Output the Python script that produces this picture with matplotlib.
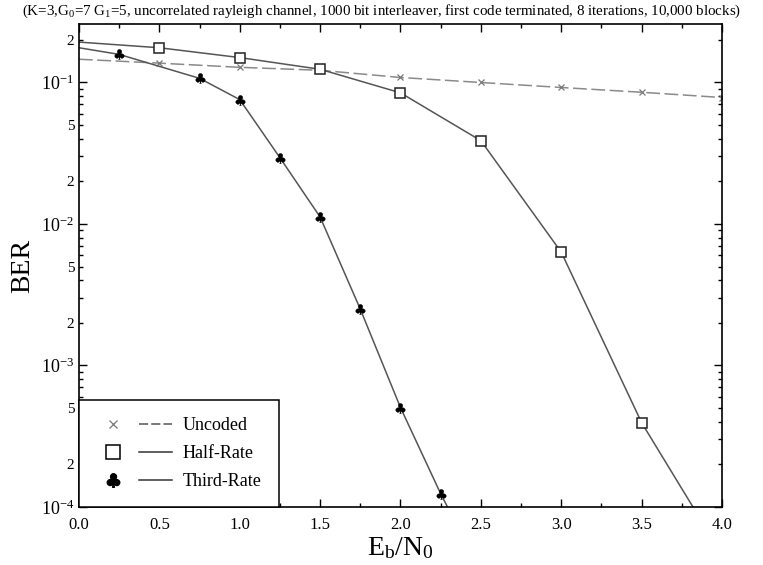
import math
import matplotlib
matplotlib.use("Agg")
import matplotlib.pyplot as plt
from matplotlib.ticker import LogLocator, MultipleLocator, FuncFormatter
from matplotlib.legend_handler import HandlerTuple
from matplotlib.lines import Line2D
from matplotlib.textpath import TextPath
from matplotlib.font_manager import FontProperties
from matplotlib.path import Path

plt.rcParams["font.family"] = "Liberation Serif"
plt.rcParams["mathtext.fontset"] = "custom"
plt.rcParams["mathtext.rm"] = "Liberation Serif"
plt.rcParams["mathtext.it"] = "Liberation Serif:italic"

# data
uncoded_x = [0.0, 0.5, 1.0, 1.5, 2.0, 2.5, 3.0, 3.5, 4.0]
uncoded_ber = [0.146, 0.137, 0.128, 0.122, 0.1085, 0.100, 0.0922, 0.0853, 0.0783]

half_x = [0.0, 0.5, 1.0, 1.5, 2.0, 2.5, 3.0, 3.5, 4.0]
half_ber = [0.193, 0.176, 0.150, 0.124, 0.0845, 0.0388, 0.00632, 0.000394, 4.6e-5]

third_x = [0.0, 0.25, 0.75, 1.0, 1.25, 1.5, 1.75, 2.0, 2.25, 2.5]
third_ber = [0.176, 0.158, 0.107, 0.0757, 0.0294, 0.0112, 0.0025, 0.000504, 0.000124, 3.5e-5]

title = ("(K=3,G$_0$=7 G$_1$=5, uncorrelated rayleigh channel, 1000 bit interleaver, "
         "first code terminated, 8 iterations, 10,000 blocks)")

# club glyph as a centred marker path
tp = TextPath((0, 0), "\u2663", prop=FontProperties(family="DejaVu Sans"))
ext = tp.get_extents()
cx, cy = (ext.x0 + ext.x1) / 2, (ext.y0 + ext.y1) / 2
club = Path(tp.vertices - [cx, cy], tp.codes)

fig = plt.figure(figsize=(7.63, 5.65), dpi=100)
ax = fig.add_axes([0.1035, 0.1027, 0.8428, 0.8548])

ax.plot(uncoded_x, uncoded_ber, color="#8a8a8a", lw=1.1, dashes=(9, 3),
        marker="x", ms=4.5, mew=0.9, mec="#777777", markevery=slice(1, None))
ax.plot(half_x, half_ber, color="#555555", lw=1.1,
        marker="s", ms=6.5, mfc="white", mec="#222222", mew=1.1, markevery=slice(1, None))
ax.plot(third_x, third_ber, color="#555555", lw=1.1,
        marker=club, ms=9, mfc="black", mec="black", mew=0.3, markevery=slice(1, None))

ax.set_yscale("log")
ax.set_xlim(0, 4.0)
ax.set_ylim(1e-4, 0.259)

ax.xaxis.set_major_locator(MultipleLocator(0.5))
ax.xaxis.set_minor_locator(MultipleLocator(0.25))
ax.xaxis.set_major_formatter(FuncFormatter(lambda v, p: f"{v:.1f}"))

ax.yaxis.set_major_locator(LogLocator(base=10, numticks=10))
ax.yaxis.set_minor_locator(LogLocator(base=10, subs=[2, 3, 4, 5, 6, 7, 8, 9], numticks=20))


def major_fmt(v, p):
    e = int(round(math.log10(v)))
    return r"$\mathregular{10^{%d}}$" % e


def minor_fmt(v, p):
    m = round(v / 10 ** math.floor(math.log10(v) + 1e-9))
    return str(m) if m in (2, 5) else ""


ax.yaxis.set_major_formatter(FuncFormatter(major_fmt))
ax.yaxis.set_minor_formatter(FuncFormatter(minor_fmt))

ax.tick_params(which="both", direction="in", top=True, right=True, labelsize=11)
ax.tick_params(which="major", length=6, width=1)
ax.tick_params(which="minor", length=3, width=1)
ax.tick_params(axis="x", which="major", labelsize=12, pad=7)
ax.tick_params(axis="y", which="major", labelsize=13)
ax.tick_params(axis="y", which="minor", labelsize=11)
for s in ax.spines.values():
    s.set_linewidth(1.2)

ax.set_ylabel("BER", fontsize=20, labelpad=4)
ax.set_xlabel(r"E$_\mathregular{b}$/N$_0$", fontsize=20, labelpad=2)
fig.text(0.5, 0.995, title, ha="center", va="top", fontsize=10.8)

h_unc = (Line2D([], [], ls="none", marker="x", ms=6, mew=0.9, color="#777777"),
         Line2D([], [], color="#555555", lw=1.1, dashes=(6, 2)))
h_half = (Line2D([], [], ls="none", marker="s", ms=10, mfc="white", mec="black", mew=1.1),
          Line2D([], [], color="#333333", lw=1.1))
h_third = (Line2D([], [], ls="none", marker=club, ms=12, color="black"),
           Line2D([], [], color="#333333", lw=1.1))
leg = ax.legend([h_unc, h_half, h_third], ["Uncoded", "Half-Rate", "Third-Rate"],
                handler_map={tuple: HandlerTuple(ndivide=None, pad=0.5)},
                loc="lower left", bbox_to_anchor=(0, 0), borderaxespad=0,
                fontsize=13, handlelength=4.2, handletextpad=0.6,
                fancybox=False, framealpha=1, edgecolor="black",
                borderpad=0.95, labelspacing=0.6)
leg.get_frame().set_linewidth(1.1)

fig.savefig("out.png", dpi=100)
